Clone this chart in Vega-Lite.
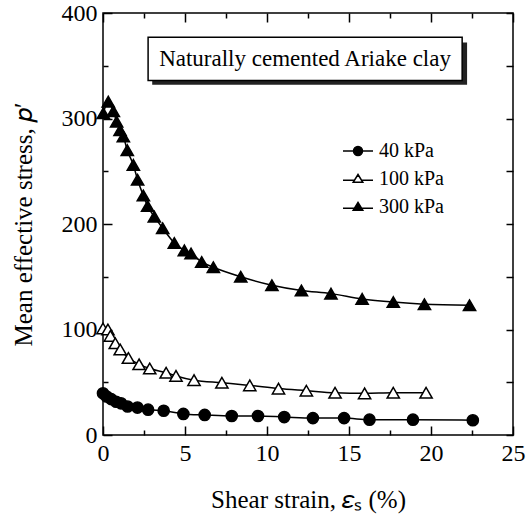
{
  "$schema": "https://vega.github.io/schema/vega-lite/v6.json",
  "width": 410,
  "height": 422,
  "autosize": {"type": "none"},
  "padding": {"left": 103, "top": 13, "right": 18, "bottom": 87},
  "background": "white",
  "config": {
    "font": "Liberation Serif",
    "view": {"stroke": "black", "strokeWidth": 1.5},
    "style": {"guide-label": {"font": "Liberation Serif"}, "guide-title": {"font": "Liberation Serif"}},
    "axis": {
      "domain": false, "grid": false,
      "labelFont": "Liberation Serif", "labelFontSize": 24, "labelColor": "black",
      "titleFont": "Liberation Serif", "titleFontSize": 25, "titleFontWeight": "normal", "titleColor": "black",
      "tickColor": "black", "tickWidth": 1.5,
      "labelFlush": false, "labelOverlap": false
    },
    "legend": {"labelFont": "Liberation Serif", "labelFontSize": 20, "labelColor": "black"}
  },
  "datasets": {
    "pts": [
      {"s": "40 kPa", "x": 0.0, "y": 39.5}, {"s": "40 kPa", "x": 0.22, "y": 36.5}, {"s": "40 kPa", "x": 0.5, "y": 34},
      {"s": "40 kPa", "x": 0.8, "y": 31.5}, {"s": "40 kPa", "x": 1.1, "y": 30}, {"s": "40 kPa", "x": 1.5, "y": 27},
      {"s": "40 kPa", "x": 2.1, "y": 26}, {"s": "40 kPa", "x": 2.75, "y": 24}, {"s": "40 kPa", "x": 3.7, "y": 23},
      {"s": "40 kPa", "x": 4.9, "y": 20}, {"s": "40 kPa", "x": 6.2, "y": 19}, {"s": "40 kPa", "x": 7.85, "y": 18},
      {"s": "40 kPa", "x": 9.45, "y": 18}, {"s": "40 kPa", "x": 11.05, "y": 17}, {"s": "40 kPa", "x": 12.8, "y": 16},
      {"s": "40 kPa", "x": 14.7, "y": 16}, {"s": "40 kPa", "x": 16.25, "y": 14.5}, {"s": "40 kPa", "x": 18.9, "y": 14.5},
      {"s": "40 kPa", "x": 22.55, "y": 14},
      {"s": "100 kPa", "x": 0.0, "y": 101}, {"s": "100 kPa", "x": 0.3, "y": 100}, {"s": "100 kPa", "x": 0.45, "y": 94},
      {"s": "100 kPa", "x": 0.75, "y": 87}, {"s": "100 kPa", "x": 1.05, "y": 81}, {"s": "100 kPa", "x": 1.55, "y": 73},
      {"s": "100 kPa", "x": 2.2, "y": 67}, {"s": "100 kPa", "x": 2.85, "y": 63}, {"s": "100 kPa", "x": 3.85, "y": 59},
      {"s": "100 kPa", "x": 4.45, "y": 56}, {"s": "100 kPa", "x": 5.55, "y": 52}, {"s": "100 kPa", "x": 7.25, "y": 49.5},
      {"s": "100 kPa", "x": 8.95, "y": 47}, {"s": "100 kPa", "x": 10.7, "y": 44}, {"s": "100 kPa", "x": 12.4, "y": 42},
      {"s": "100 kPa", "x": 14.15, "y": 40}, {"s": "100 kPa", "x": 15.95, "y": 39.5}, {"s": "100 kPa", "x": 17.7, "y": 40},
      {"s": "100 kPa", "x": 19.7, "y": 40},
      {"s": "300 kPa", "x": 0.02, "y": 305}, {"s": "300 kPa", "x": 0.32, "y": 316}, {"s": "300 kPa", "x": 0.63, "y": 307},
      {"s": "300 kPa", "x": 0.83, "y": 297}, {"s": "300 kPa", "x": 1.04, "y": 289}, {"s": "300 kPa", "x": 1.24, "y": 283},
      {"s": "300 kPa", "x": 1.48, "y": 270}, {"s": "300 kPa", "x": 1.85, "y": 256}, {"s": "300 kPa", "x": 2.11, "y": 242},
      {"s": "300 kPa", "x": 2.46, "y": 227}, {"s": "300 kPa", "x": 2.72, "y": 217}, {"s": "300 kPa", "x": 3.13, "y": 207},
      {"s": "300 kPa", "x": 3.64, "y": 196}, {"s": "300 kPa", "x": 4.35, "y": 182}, {"s": "300 kPa", "x": 4.96, "y": 175},
      {"s": "300 kPa", "x": 5.37, "y": 172}, {"s": "300 kPa", "x": 6.02, "y": 164}, {"s": "300 kPa", "x": 6.73, "y": 159},
      {"s": "300 kPa", "x": 8.4, "y": 150}, {"s": "300 kPa", "x": 10.3, "y": 142}, {"s": "300 kPa", "x": 12.1, "y": 137},
      {"s": "300 kPa", "x": 13.9, "y": 134}, {"s": "300 kPa", "x": 15.8, "y": 129}, {"s": "300 kPa", "x": 17.7, "y": 126},
      {"s": "300 kPa", "x": 19.6, "y": 124}, {"s": "300 kPa", "x": 22.35, "y": 123}
    ]
  },
  "layer": [
    {
      "data": {"name": "pts"},
      "encoding": {
        "x": {"field": "x", "type": "quantitative", "scale": {"domain": [0, 25], "nice": false, "zero": false},
              "axis": {"orient": "bottom", "values": [0, 5, 10, 15, 20, 25], "tickSize": -9, "labelPadding": 15, "labelFont": "Liberation Serif", "titleFont": "Liberation Serif", "title": "Shear strain, 𝜀ₛ (%)", "titlePadding": 22}},
        "y": {"field": "y", "type": "quantitative", "scale": {"domain": [0, 400], "nice": false, "zero": false},
              "axis": {"orient": "left", "values": [0, 100, 200, 300, 400], "tickSize": -9, "labelPadding": 15, "labelFont": "Liberation Serif", "titleFont": "Liberation Serif", "title": "Mean effective stress, 𝑝′", "titlePadding": 25}}
      },
      "layer": [
        {"mark": {"type": "line", "interpolate": "monotone", "color": "black", "strokeWidth": 1.5},
         "encoding": {"detail": {"field": "s"}, "order": {"field": "x", "type": "quantitative"}}},
        {"mark": {"type": "point", "filled": false, "stroke": "black", "strokeWidth": 1.5, "opacity": 1},
         "encoding": {
           "shape": {"condition": {"test": "datum.s === '40 kPa'", "value": "circle"}, "value": "triangle-up"},
           "fill": {"condition": {"test": "datum.s === '100 kPa'", "value": "white"}, "value": "black"},
           "size": {"condition": {"test": "datum.s === '40 kPa'", "value": 125}, "value": 150}
         }},
        {"transform": [{"filter": "false"}],
         "mark": {"type": "point", "filled": true, "strokeWidth": 1.5, "size": 900, "opacity": 1},
         "encoding": {
           "shape": {"field": "s", "type": "nominal",
             "scale": {"domain": ["40 kPa", "100 kPa", "300 kPa"],
               "range": ["M-1,0H-0.3M0.3,0H1M0.3,0A0.3,0.3,0,1,1,-0.3,0A0.3,0.3,0,1,1,0.3,0Z",
                         "M-1,0.08H-0.2M0.2,0.08H1M0,-0.3L0.32,0.22H-0.32Z",
                         "M-1,0.08H-0.2M0.2,0.08H1M0,-0.3L0.32,0.22H-0.32Z"]},
             "legend": {"title": null, "orient": "none", "legendX": 239, "legendY": 122, "symbolSize": 900, "symbolOpacity": 1,
                        "symbolStrokeWidth": 1.5, "labelOffset": 5, "rowPadding": 2, "labelFont": "Liberation Serif", "labelFontSize": 20}},
           "fill": {"field": "s", "type": "nominal",
             "scale": {"domain": ["40 kPa", "100 kPa", "300 kPa"], "range": ["black", "white", "black"]},
             "legend": {"title": null, "orient": "none", "legendX": 239, "legendY": 122, "symbolSize": 900, "symbolOpacity": 1,
                        "symbolStrokeWidth": 1.5, "labelOffset": 5, "rowPadding": 2, "labelFont": "Liberation Serif", "labelFontSize": 20}},
           "stroke": {"field": "s", "type": "nominal",
             "scale": {"domain": ["40 kPa", "100 kPa", "300 kPa"], "range": ["black", "black", "black"]},
             "legend": {"title": null, "orient": "none", "legendX": 239, "legendY": 122, "symbolSize": 900, "symbolOpacity": 1,
                        "symbolStrokeWidth": 1.5, "labelOffset": 5, "rowPadding": 2, "labelFont": "Liberation Serif", "labelFontSize": 20}}
         }}
      ]
    },
    {
      "data": {"values": [{}]},
      "mark": {"type": "rect", "fill": "#222222"},
      "encoding": {
        "x": {"datum": 3.0, "type": "quantitative", "scale": {"domain": [0, 25], "nice": false, "zero": false},
              "axis": {"orient": "bottom", "values": [2.5, 7.5, 12.5, 17.5, 22.5], "tickSize": -5, "labels": false, "title": null}},
        "x2": {"datum": 22.2},
        "y": {"datum": 372, "type": "quantitative", "scale": {"domain": [0, 400], "nice": false, "zero": false},
              "axis": {"orient": "left", "values": [50, 150, 250, 350], "tickSize": -5, "labels": false, "title": null}},
        "y2": {"datum": 332}
      }
    },
    {
      "data": {"values": [{}]},
      "mark": {"type": "rect", "fill": "white", "stroke": "black", "strokeWidth": 1.5},
      "encoding": {
        "x": {"datum": 2.75, "type": "quantitative", "scale": {"domain": [0, 25], "nice": false, "zero": false},
              "axis": {"orient": "top", "values": [0, 5, 10, 15, 20, 25], "tickSize": -9, "labels": false, "title": null}},
        "x2": {"datum": 21.9},
        "y": {"datum": 377, "type": "quantitative", "scale": {"domain": [0, 400], "nice": false, "zero": false},
              "axis": {"orient": "right", "values": [0, 100, 200, 300, 400], "tickSize": -7, "labels": false, "title": null}},
        "y2": {"datum": 336}
      }
    },
    {
      "data": {"values": [{}]},
      "mark": {"type": "text", "text": "Naturally cemented Ariake clay", "font": "Liberation Serif", "fontSize": 23, "color": "black", "baseline": "middle", "align": "center"},
      "encoding": {
        "x": {"datum": 12.32, "type": "quantitative", "scale": {"domain": [0, 25], "nice": false, "zero": false},
              "axis": {"orient": "top", "values": [2.5, 7.5, 12.5, 17.5, 22.5], "tickSize": -5, "labels": false, "title": null}},
        "y": {"datum": 356.5, "type": "quantitative", "scale": {"domain": [0, 400], "nice": false, "zero": false},
              "axis": {"orient": "right", "values": [50, 150, 250, 350], "tickSize": -7, "labels": false, "title": null}}
      }
    }
  ],
  "resolve": {"axis": {"x": "independent", "y": "independent"}}
}
